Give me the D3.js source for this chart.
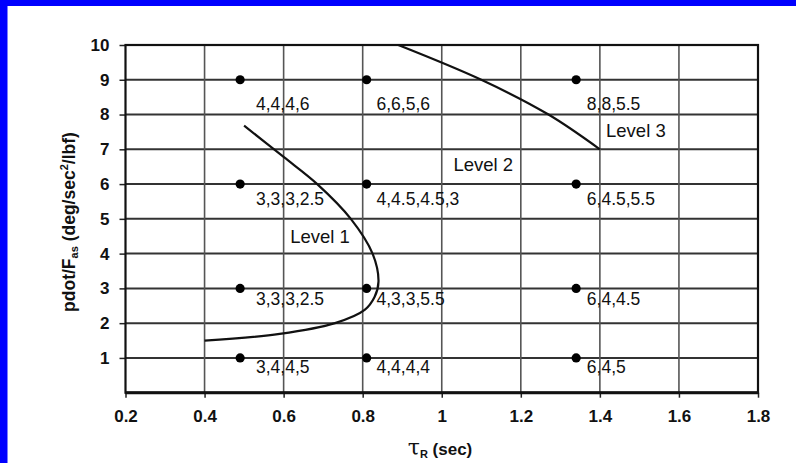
<!DOCTYPE html>
<html><head><meta charset="utf-8">
<script src="https://cdn.jsdelivr.net/npm/d3@7"></script>
<style>
html,body{margin:0;padding:0;background:#fff;}
svg{display:block;}
text{font-family:"Liberation Sans",Arial,sans-serif;fill:#111;}
</style></head>
<body>
<script>
// ---- data ----
const tauValues = [0.49, 0.81, 1.34];          // τR of flight points (sec)
const pdotValues = [9, 6, 3, 1];               // pdot/Fas of flight points
const pointLabels = [                          // rows follow pdotValues, columns follow tauValues
  ["4,4,4,6", "6,6,5,6", "8,8,5.5"],
  ["3,3,3,2.5", "4,4.5,4.5,3", "6,4.5,5.5"],
  ["3,3,3,2.5", "4,3,3,5.5", "6,4,4.5"],
  ["3,4,4,5", "4,4,4,4", "6,4,5"]
];
const labelTau = [0.53, 0.835, 1.367];         // label anchor (data units) per column
const labelPdot = [8.30, 5.585, 2.695, 0.748]; // label anchor (data units) per row
const level1Tau  = [0.50, 0.60, 0.685, 0.77, 0.825, 0.84, 0.83, 0.805, 0.73, 0.59, 0.40];
const level1Pdot = [7.68, 6.78, 6.0, 5.0, 4.0, 3.2, 2.75, 2.38, 2.0, 1.69, 1.5];
const level23Tau  = [0.89, 1.10, 1.27, 1.40];
const level23Pdot = [10, 9, 8, 7];
const levelNames = ["Level 1", "Level 2", "Level 3"];
const levelTau = [0.692, 1.105, 1.491];
const levelPdot = [4.48, 6.57, 7.555];
const xTicks = [0.2, 0.4, 0.6, 0.8, 1.0, 1.2, 1.4, 1.6, 1.8];
const yTicks = [1, 2, 3, 4, 5, 6, 7, 8, 9, 10];

// ---- drawing ----
const W = 796, H = 463;
const svg = d3.select("body").append("svg").attr("width", W).attr("height", H);
svg.append("rect").attr("width", W).attr("height", H).attr("fill", "#fff");
// blue frame (top and left)
svg.append("rect").attr("x", 0).attr("y", 0).attr("width", W).attr("height", 6).attr("fill", "#0000ff");
svg.append("rect").attr("x", 0).attr("y", 0).attr("width", 7.5).attr("height", H).attr("fill", "#0000ff");

const x = d3.scaleLinear().domain([0.2, 1.8]).range([125.5, 758]);
const y = d3.scaleLinear().domain([0, 10]).range([392.7, 45]);

// gridlines
svg.append("g").selectAll("line").data(yTicks.filter(v => v < 10)).join("line")
  .attr("x1", x(0.2)).attr("x2", x(1.8)).attr("y1", d => y(d)).attr("y2", d => y(d))
  .attr("stroke", "#333").attr("stroke-width", 2);
svg.append("g").selectAll("line").data(xTicks.filter(v => v > 0.2 && v < 1.8)).join("line")
  .attr("y1", y(0)).attr("y2", y(10)).attr("x1", d => x(d)).attr("x2", d => x(d))
  .attr("stroke", "#555").attr("stroke-width", 1.6);

// axes
const xAxis = svg.append("g").attr("transform", `translate(0,${y(0)})`)
  .call(d3.axisBottom(x).tickValues(xTicks).tickSize(5).tickPadding(12).tickFormat(d => d3.format("")(+d.toFixed(1))));
const yAxis = svg.append("g").attr("transform", `translate(${x(0.2)},0)`)
  .call(d3.axisLeft(y).tickValues(yTicks).tickSize(6).tickPadding(10).tickFormat(d3.format("d")));
[xAxis, yAxis].forEach(a => {
  a.select(".domain").remove();
  a.selectAll(".tick line").attr("stroke", "#222").attr("stroke-width", 1.5);
  a.selectAll(".tick text").attr("font-size", 17).attr("font-weight", "bold")
    .attr("font-family", "'Liberation Sans',Arial,sans-serif").attr("fill", "#111");
});

// frame
svg.append("rect").attr("x", x(0.2)).attr("y", y(10)).attr("width", x(1.8) - x(0.2)).attr("height", y(0) - y(10))
  .attr("fill", "none").attr("stroke", "#111").attr("stroke-width", 2.2);
svg.append("line").attr("x1", x(0.2)).attr("x2", x(1.8)).attr("y1", y(0)).attr("y2", y(0))
  .attr("stroke", "#111").attr("stroke-width", 3);

// boundary curves
const line = d3.line().x(d => x(d[0])).y(d => y(d[1])).curve(d3.curveCatmullRom.alpha(0.5));
svg.append("path").datum(level1Tau.map((t, i) => [t, level1Pdot[i]])).attr("d", line)
  .attr("fill", "none").attr("stroke", "#111").attr("stroke-width", 2.2);
svg.append("path").datum(level23Tau.map((t, i) => [t, level23Pdot[i]])).attr("d", line)
  .attr("fill", "none").attr("stroke", "#111").attr("stroke-width", 2.2);

// points
const pts = [];
pdotValues.forEach((p, r) => tauValues.forEach((t, c) => pts.push({t, p, r, c})));
svg.append("g").selectAll("circle").data(pts).join("circle")
  .attr("cx", d => x(d.t)).attr("cy", d => y(d.p)).attr("r", 4.6).attr("fill", "#000");
svg.append("g").selectAll("text").data(pts).join("text")
  .attr("x", d => x(labelTau[d.c])).attr("y", d => y(labelPdot[d.r]))
  .attr("dominant-baseline", "central").attr("font-size", 17.5)
  .text(d => pointLabels[d.r][d.c]);

// level names
svg.append("g").selectAll("text").data(levelNames).join("text")
  .attr("x", (d, i) => x(levelTau[i])).attr("y", (d, i) => y(levelPdot[i]))
  .attr("text-anchor", "middle").attr("dominant-baseline", "central").attr("font-size", 18.5)
  .text(d => d);

// axis titles
const xt = svg.append("text").attr("x", 440).attr("y", 455).attr("text-anchor", "middle")
  .attr("font-size", 17).attr("font-weight", "bold");
xt.append("tspan").attr("font-family", "'DejaVu Serif',serif").attr("font-size", 22).attr("font-weight", "normal").text("τ");
xt.append("tspan").attr("font-size", 11).attr("dy", 3).text("R");
xt.append("tspan").attr("dy", -3).text(" (sec)");

const yt = svg.append("text").attr("transform", "translate(75,222) rotate(-90)").attr("text-anchor", "middle")
  .attr("font-size", 17.5).attr("font-weight", "bold");
yt.append("tspan").text("pdot/F");
yt.append("tspan").attr("font-size", 11).attr("dy", 3).text("as");
yt.append("tspan").attr("dy", -3).text(" (deg/sec");
yt.append("tspan").attr("font-size", 11).attr("dy", -7).text("2");
yt.append("tspan").attr("dy", 7).text("/lbf)");
</script>
</body></html>
